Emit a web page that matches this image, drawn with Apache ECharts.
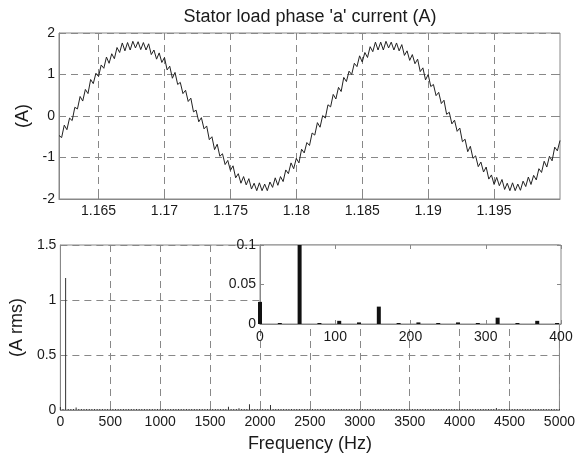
<!DOCTYPE html>
<html>
<head>
<meta charset="utf-8">
<script src="https://cdn.jsdelivr.net/npm/echarts@6/dist/echarts.min.js"></script>
<style>
html,body{margin:0;padding:0;background:#fff;}
#chart{width:578px;height:460px;}
</style>
</head>
<body>
<div id="chart"></div>
<script>
// ---- Data ----
const titleText = "Stator load phase 'a' current (A)";
const tStart = 1.162;          // first sample time (s)
const dt = 0.0002;             // sample spacing (s)
const currentA = [
  -0.47,-0.52,-0.22,-0.33,-0.05,-0.11,0.21,0.17,0.47,0.36,
  0.64,0.54,0.88,0.78,1.03,0.95,1.23,1.15,1.42,1.27,
  1.50,1.38,1.65,1.53,1.76,1.57,1.77,1.59,1.80,1.64,
  1.79,1.60,1.77,1.59,1.74,1.48,1.59,1.37,1.52,1.29,
  1.41,1.11,1.20,0.91,1.05,0.76,0.81,0.54,0.62,0.35,
  0.43,0.10,0.14,-0.14,-0.04,-0.31,-0.24,-0.57,-0.50,-0.81,
  -0.68,-0.97,-0.91,-1.17,-1.07,-1.31,-1.20,-1.49,-1.39,-1.62,
  -1.46,-1.66,-1.51,-1.76,-1.62,-1.80,-1.61,-1.80,-1.64,-1.80,
  -1.59,-1.72,-1.49,-1.67,-1.46,-1.58,-1.30,-1.39,-1.13,-1.27,
  -1.02,-1.13,-0.80,-0.89,-0.64,-0.71,-0.41,-0.46,-0.16,-0.27,
  0.01,-0.05,0.27,0.22,0.52,0.41,0.69,0.59,0.93,0.83,
  1.08,1.00,1.27,1.19,1.45,1.30,1.53,1.41,1.67,1.55,
  1.78,1.59,1.78,1.59,1.80,1.64,1.78,1.59,1.76,1.57,
  1.72,1.46,1.57,1.34,1.48,1.26,1.37,1.07,1.16,0.87,
  1.00,0.71,0.76,0.49,0.57,0.30,0.38,0.04,0.09,-0.19,
  -0.10,-0.37,-0.29,-0.62,-0.56,-0.86,-0.73,-1.02,-0.96,-1.22,
  -1.11,-1.35,-1.23,-1.52,-1.42,-1.65,-1.48,-1.68,-1.53,-1.77,
  -1.62,-1.80,-1.61,-1.80,-1.64,-1.79,-1.57,-1.70,-1.47,-1.65,
  -1.43,-1.54,-1.27,-1.36,-1.09,-1.23,-0.97,-1.08,-0.75,-0.84,
  -0.59
];
const timeTicks = [1.165, 1.17, 1.175, 1.18, 1.185, 1.19, 1.195];

const binHz = 26.316;          // spectrum bin spacing (Hz)
const spectrumAmp = [
  0.028,0.001,1.2,0.001,0.004,0.002,0.022,0.001,0.002,0.001,
  0.002,0.001,0.008,0.001,0.004,0.001,0.003,0.001,0.002,0.001,
  0.004,0.002,0.003,0.001,0.005,0.001,0.002,0.001,0.004,0.002,
  0.003,0.001,0.005,0.001,0.002,0.001,0.004,0.001,0.003,0.002,
  0.005,0.001,0.003,0.001,0.004,0.002,0.003,0.001,0.006,0.001,
  0.003,0.002,0.004,0.001,0.005,0.001,0.003,0.002,0.004,0.001,
  0.006,0.002,0.005,0.002,0.030,0.002,0.006,0.002,0.015,0.002,
  0.007,0.003,0.052,0.002,0.006,0.002,0.008,0.002,0.006,0.003,
  0.046,0.002,0.007,0.002,0.005,0.001,0.004,0.002,0.005,0.001,
  0.003,0.002,0.004,0.001,0.005,0.001,0.003,0.002,0.004,0.001,
  0.005,0.001,0.003,0.002,0.004,0.001,0.003,0.001,0.005,0.002,
  0.003,0.001,0.004,0.001,0.006,0.002,0.003,0.001,0.004,0.001,
  0.005,0.002,0.003,0.001,0.004,0.001,0.003,0.002,0.005,0.001,
  0.004,0.001,0.003,0.002,0.005,0.001,0.004,0.001,0.003,0.002,
  0.005,0.001,0.004,0.002,0.003,0.001,0.005,0.001,0.004,0.002,
  0.006,0.001,0.004,0.002,0.005,0.001,0.004,0.002,0.006,0.001,
  0.005,0.002,0.004,0.001,0.007,0.002,0.018,0.002,0.006,0.001,
  0.005,0.002,0.004,0.001,0.006,0.002,0.004,0.001,0.005,0.002,
  0.004,0.001,0.005,0.002,0.003,0.001,0.004,0.002,0.005,0.001,
  0.003
];
const insetMaxHz = 400;

// ---- Chart ----
const FONT = 'Liberation Sans';
const TXT = '#1a1a1a';
const FRAME = '#888';
const dashed = { show: true, lineStyle: { color: FRAME, type: [7, 5], width: 1 } };

const waveData = currentA.map((v, i) => [tStart + i * dt, v]);
const specData = spectrumAmp.map((v, k) => [k * binHz, v]);
const insetData = specData.filter(d => d[0] <= insetMaxHz);

const plain = v => String(Math.round(v * 10000) / 10000);
function lbl(extra) {
  return Object.assign({ color: TXT, fontFamily: FONT, fontSize: 14, formatter: plain }, extra || {});
}
const tickIn = { show: true, inside: true, length: 4, lineStyle: { color: FRAME } };
const axLine = { show: true, onZero: false, lineStyle: { color: FRAME, width: 1 } };
const noLine = { show: false, onZero: false };

const chart = echarts.init(document.getElementById('chart'), null, { renderer: 'canvas' });
chart.setOption({
  animation: false,
  backgroundColor: '#fff',
  textStyle: { fontFamily: FONT },
  graphic: [{
    type: 'text', x: 310, y: 17,
    style: { text: titleText, fill: TXT, font: '18px "Liberation Sans"', textAlign: 'center', textVerticalAlign: 'middle' }
  }],
  grid: [
    { left: 59, top: 33, width: 501, height: 166, show: true, borderColor: FRAME, borderWidth: 1, backgroundColor: 'transparent' },
    { left: 59, top: 245, width: 502, height: 165, show: true, borderColor: FRAME, borderWidth: 1, backgroundColor: 'transparent' },
    { left: 260, top: 245, width: 301, height: 79, show: true, borderColor: FRAME, borderWidth: 1, backgroundColor: '#fff', z: 3 }
  ],
  xAxis: [
    { type: 'value', gridIndex: 0, min: tStart, max: 1.2,
      axisLine: axLine, axisTick: Object.assign({ customValues: timeTicks }, tickIn),
      axisLabel: lbl({ customValues: timeTicks, margin: 5 }), splitLine: dashed },
    { type: 'value', gridIndex: 1, min: 0, max: 5000, interval: 500,
      name: 'Frequency (Hz)', nameLocation: 'middle', nameGap: 25,
      nameTextStyle: { color: TXT, fontFamily: FONT, fontSize: 18 },
      axisLine: axLine, axisTick: tickIn, axisLabel: lbl({ margin: 5 }), splitLine: dashed },
    { type: 'value', gridIndex: 2, min: 0, max: insetMaxHz, interval: 100, z: 4,
      axisLine: axLine, axisTick: tickIn, axisLabel: lbl({ margin: 6 }), splitLine: { show: false } },
    // mirrored top ticks
    { type: 'value', gridIndex: 0, position: 'top', min: tStart, max: 1.2,
      axisLine: noLine, axisTick: Object.assign({ customValues: timeTicks }, tickIn),
      axisLabel: { show: false }, splitLine: { show: false } },
    { type: 'value', gridIndex: 1, position: 'top', min: 0, max: 5000, interval: 500,
      axisLine: noLine, axisTick: tickIn, axisLabel: { show: false }, splitLine: { show: false } },
    { type: 'value', gridIndex: 2, position: 'top', min: 0, max: insetMaxHz, interval: 100, z: 4,
      axisLine: noLine, axisTick: tickIn, axisLabel: { show: false }, splitLine: { show: false } }
  ],
  yAxis: [
    { type: 'value', gridIndex: 0, min: -2, max: 2, interval: 1,
      name: '(A)', nameLocation: 'middle', nameGap: 24,
      nameTextStyle: { color: TXT, fontFamily: FONT, fontSize: 18 },
      axisLine: axLine, axisTick: tickIn, axisLabel: lbl({ margin: 4 }), splitLine: dashed },
    { type: 'value', gridIndex: 1, min: 0, max: 1.5, interval: 0.5,
      name: '(A rms)', nameLocation: 'middle', nameGap: 34,
      nameTextStyle: { color: TXT, fontFamily: FONT, fontSize: 18 },
      axisLine: axLine, axisTick: tickIn, axisLabel: lbl({ margin: 4 }), splitLine: dashed },
    { type: 'value', gridIndex: 2, min: 0, max: 0.1, interval: 0.05, z: 4,
      axisLine: axLine, axisTick: tickIn, axisLabel: lbl({ margin: 4 }), splitLine: { show: false } },
    // mirrored right ticks
    { type: 'value', gridIndex: 0, position: 'right', min: -2, max: 2, interval: 1,
      axisLine: noLine, axisTick: tickIn, axisLabel: { show: false }, splitLine: { show: false } },
    { type: 'value', gridIndex: 1, position: 'right', min: 0, max: 1.5, interval: 0.5,
      axisLine: noLine, axisTick: tickIn, axisLabel: { show: false }, splitLine: { show: false } },
    { type: 'value', gridIndex: 2, position: 'right', min: 0, max: 0.1, interval: 0.05, z: 4,
      axisLine: noLine, axisTick: tickIn, axisLabel: { show: false }, splitLine: { show: false } }
  ],
  series: [
    { type: 'line', xAxisIndex: 0, yAxisIndex: 0, data: waveData, showSymbol: false, symbol: 'none',
      lineStyle: { color: '#222', width: 1 }, z: 2 },
    { type: 'bar', xAxisIndex: 1, yAxisIndex: 1, data: specData, barWidth: 1, barMinHeight: 1,
      itemStyle: { color: '#333' }, z: 2 },
    { type: 'bar', xAxisIndex: 2, yAxisIndex: 2, data: insetData, barWidth: 4, barMinHeight: 1, clip: true,
      itemStyle: { color: '#111' }, z: 5 }
  ]
});
</script>
</body>
</html>
